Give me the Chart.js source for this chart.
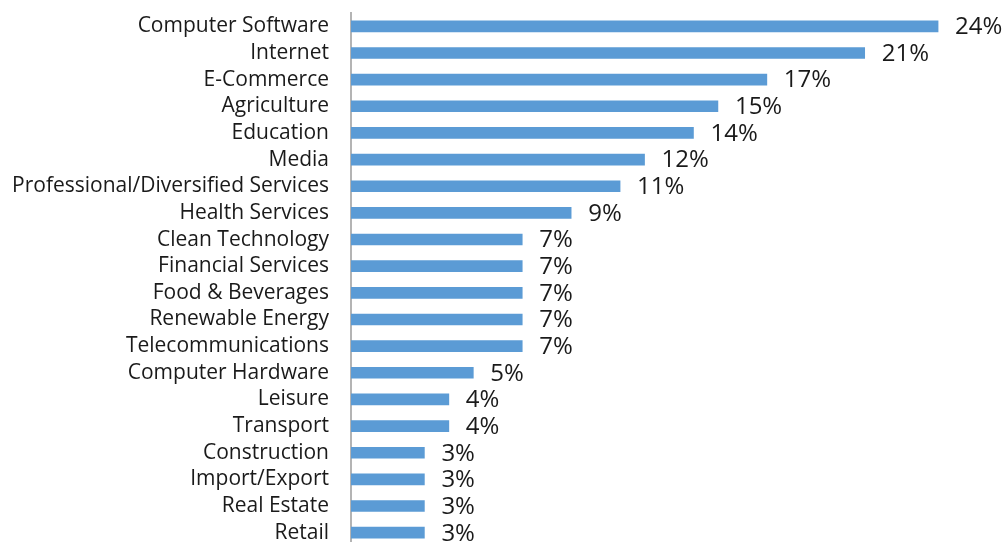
<!DOCTYPE html>
<html>
<head>
<meta charset="utf-8">
<script src="https://cdn.jsdelivr.net/npm/chart.js@4/dist/chart.umd.min.js"></script>
<style>
html,body{margin:0;padding:0;background:#fff;overflow:hidden;}
#wrap{width:1004px;height:548px;}
</style>
</head>
<body>
<div id="wrap"><canvas id="c" width="1004" height="548"></canvas></div>
<script>
const categories = ["Computer Software","Internet","E-Commerce","Agriculture","Education","Media","Professional/Diversified Services","Health Services","Clean Technology","Financial Services","Food & Beverages","Renewable Energy","Telecommunications","Computer Hardware","Leisure","Transport","Construction","Import/Export","Real Estate","Retail"];
const shares = [24,21,17,15,14,12,11,9,7,7,7,7,7,5,4,4,3,3,3,3];

const valueLabels = {
  id: 'valueLabels',
  afterDatasetsDraw(chart) {
    const ctx = chart.ctx;
    const meta = chart.getDatasetMeta(0);
    ctx.save();
    ctx.font = '24px "Open Sans"';
    ctx.fillStyle = '#1a1a1a';
    ctx.textAlign = 'left';
    ctx.textBaseline = 'middle';
    meta.data.forEach((bar, i) => {
      ctx.fillText(shares[i] + '%', bar.x + 17, bar.y + 1);
    });
    ctx.restore();
  }
};

new Chart(document.getElementById('c'), {
  type: 'bar',
  data: {
    labels: categories,
    datasets: [{
      data: shares,
      backgroundColor: '#5B9BD5',
      borderWidth: 0,
      barThickness: 11
    }]
  },
  options: {
    indexAxis: 'y',
    responsive: false,
    animation: false,
    layout: { padding: { top: 13, bottom: 2, right: 17, left: 0 } },
    plugins: { legend: { display: false }, tooltip: { enabled: false } },
    scales: {
      x: { display: false, min: 0, max: 26, grid: { display: false } },
      y: {
        afterFit(scale) { scale.width = 351; scale.paddingTop = 0; scale.paddingBottom = 0; },
        grid: { display: false, drawTicks: false },
        border: { display: true, color: '#B4B4B4', width: 2 },
        ticks: {
          padding: 22,
          color: '#1a1a1a',
          font: { family: '"Open Sans"', size: 21 },
          autoSkip: false
        }
      }
    }
  },
  plugins: [valueLabels]
});
</script>
</body>
</html>
